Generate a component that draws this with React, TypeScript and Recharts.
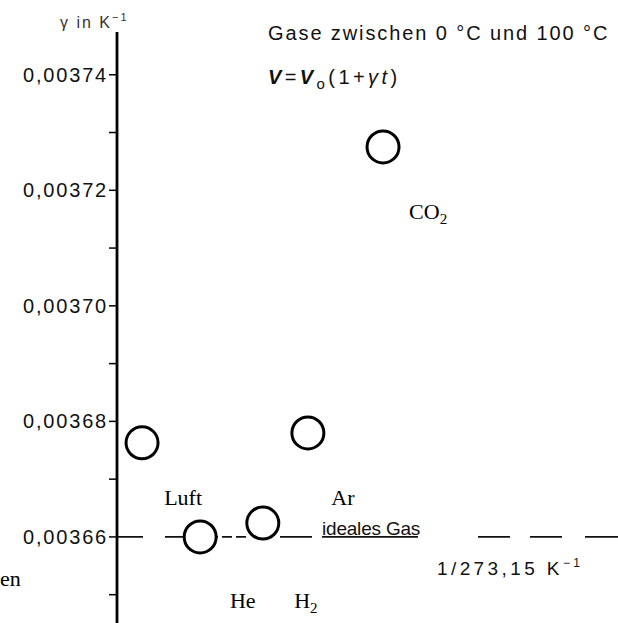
import React from 'react'
import { ScatterChart, Scatter, XAxis, YAxis } from 'recharts'

// gases, in the order they sit along the (unlabelled) x direction
const gasNames = ['Luft', 'He', 'H2', 'Ar', 'CO2']
const gasX = [5.0, 16.6, 29.1, 38.1, 53.1]
const gasGamma = [0.0036763, 0.00366, 0.0036624, 0.003678, 0.0037275]

// where each name is written (data units)
const labelX = [13.2, 25.1, 37.7, 45.1, 62.1]
const labelY = [0.0036667, 0.0036489, 0.0036489, 0.0036667, 0.0037162]

const yTicks = [0.00365, 0.00366, 0.00367, 0.00368, 0.00369, 0.0037, 0.00371, 0.00372, 0.00373, 0.00374]
const yDomain = [0.0036451, 0.0037474]

// ideal gas: 1/273,15 K^-1
const idealGamma = 0.00366
const idealX = [0, 100]

const points = gasNames.map((name, i) => ({ name, x: gasX[i], y: gasGamma[i] }))
const labels = gasNames.map((name, i) => ({ name, x: labelX[i], y: labelY[i] }))
const idealLine = idealX.map((x) => ({ x, y: idealGamma }))

const sans = '"Liberation Sans", Arial, sans-serif'
const serif = '"Liberation Serif", "Times New Roman", serif'

const yLabel = (v: number) => {
  const n = Math.round(v * 1e5)
  return n % 2 === 0 ? `0,00${n}` : ''
}

const YTick = (props: any) => {
  const text = yLabel(props.payload.value)
  if (!text) return <g />
  return (
    <text x={props.x} y={props.y} dy={7} textAnchor="end" fontFamily={sans} fontSize={20} letterSpacing={1.8} fill="#111">
      {text}
    </text>
  )
}

const Ring = (props: any) => (
  <circle cx={props.cx} cy={props.cy} r={16} fill="#fff" stroke="#000" strokeWidth={3} />
)

const Nothing = () => <g />

const GasName = (props: any) => {
  const name: string = props.payload.name
  const m = name.match(/^([A-Za-z]+)(\d*)$/)
  const base = m ? m[1] : name
  const sub = m ? m[2] : ''
  return (
    <text x={props.cx} y={props.cy} dy={7} textAnchor="middle" fontFamily={serif} fontSize={22} fill="#000">
      {base}
      {sub && <tspan dy={5} fontSize={15}>{sub}</tspan>}
    </text>
  )
}

export default function App() {
  return (
    <div style={{ position: 'absolute', left: 0, top: 0, width: 618, height: 623, background: '#fff' }}>
      <ScatterChart width={618} height={623} margin={{ top: 32, right: 0, bottom: 0, left: 0 }}>
        <XAxis type="number" dataKey="x" domain={[0, 100]} hide />
        <YAxis
          type="number"
          dataKey="y"
          domain={yDomain}
          ticks={yTicks}
          allowDataOverflow
          width={117}
          tickSize={8}
          tickMargin={1}
          interval={0}
          axisLine={{ stroke: '#000', strokeWidth: 2.8 }}
          tickLine={{ stroke: '#000', strokeWidth: 1.5 }}
          tick={YTick}
        />
        <Scatter
          data={idealLine}
          shape={Nothing}
          line={{ stroke: '#111', strokeWidth: 1.8, strokeDasharray: '26 22 53 4 10 4 10 34 32 10 96 60 32 20 32 23 40' }}
          isAnimationActive={false}
        />
        <Scatter data={points} shape={Ring} isAnimationActive={false} />
        <Scatter data={labels} shape={GasName} isAnimationActive={false} />
      </ScatterChart>
      <svg width={618} height={623} style={{ position: 'absolute', left: 0, top: 0, pointerEvents: 'none' }}>
        <text x={60} y={28} fontFamily={sans} fontSize={16} letterSpacing={2} fill="#333">
          γ in K<tspan dy={-7} fontSize={11}>−1</tspan>
        </text>
        <text x={268} y={40} fontFamily={sans} fontSize={20} letterSpacing={1.9} fill="#111">
          Gase zwischen 0 °C und 100 °C
        </text>
        <text x={268} y={84} fontFamily={sans} fontSize={20} letterSpacing={3.4} fill="#111">
          <tspan fontStyle="italic" fontWeight="bold">V</tspan>=<tspan fontStyle="italic" fontWeight="bold">V</tspan>
          <tspan dy={5} fontSize={15}>o</tspan>
          <tspan dy={-5}>(1+</tspan>
          <tspan fontStyle="italic">γt</tspan>)
        </text>
        <text x={322} y={535} fontFamily={sans} fontSize={19} letterSpacing={-0.2} fill="#111">
          ideales Gas
        </text>
        <text x={437} y={575} fontFamily={sans} fontSize={19} letterSpacing={3.4} fill="#111">
          1/273,15 K<tspan dy={-8} fontSize={12}>−1</tspan>
        </text>
        <text x={0} y={586} fontFamily={serif} fontSize={22} fill="#000">
          en
        </text>
      </svg>
    </div>
  )
}
